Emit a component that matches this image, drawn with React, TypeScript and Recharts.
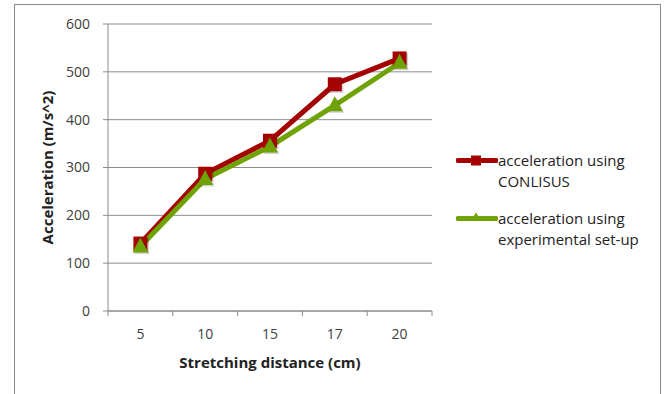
import React from "react";
import { LineChart, Line, XAxis, YAxis, CartesianGrid, Legend } from "recharts";

// Stretching distance categories (cm)
const distances = ["5", "10", "15", "17", "20"];
// Acceleration computed with CONLISUS (m/s^2)
const conlisus = [141, 287, 356, 474, 528];
// Acceleration measured with the experimental set-up (m/s^2)
const experimental = [135, 276, 344, 430, 519];
const yTicks = [0, 100, 200, 300, 400, 500, 600];

const seriesNames = ["acceleration using CONLISUS", "acceleration using experimental set-up"];
const RED = "#A50202";
const GREEN = "#6FA204";

const data = distances.map((d, i) => ({
  distance: d,
  conlisus: conlisus[i],
  experimental: experimental[i],
}));

const FONT = "'Open Sans', Lato, sans-serif";
const BAND = 64.8;

const SquareDot = (props: any) => {
  const { cx, cy, index } = props;
  if (cx == null || cy == null) return null;
  const s = 14;
  return (
    <g key={`sq-${index}`}>
      <rect x={cx - s / 2 + 1.5} y={cy - s / 2 + 1.5} width={s} height={s} fill="rgba(0,0,0,0.18)" />
      <rect x={cx - s / 2} y={cy - s / 2} width={s} height={s} fill={RED} />
    </g>
  );
};

const TriangleDot = (props: any) => {
  const { cx, cy, index } = props;
  if (cx == null || cy == null) return null;
  const w = 16;
  const h = 15;
  const pts = (ox: number, oy: number) =>
    `${cx + ox},${cy - h * 0.6 + oy} ${cx + w / 2 + ox},${cy + h * 0.4 + oy} ${cx - w / 2 + ox},${cy + h * 0.4 + oy}`;
  return (
    <g key={`tr-${index}`}>
      <polygon points={pts(1.5, 1.5)} fill="rgba(0,0,0,0.18)" />
      <polygon points={pts(0, 0)} fill={GREEN} />
    </g>
  );
};

// Category axis: labels centred in each band, tick marks on the band edges
const XTick = (props: any) => {
  const { x, y, payload, index, visibleTicksCount } = props;
  const last = index === (visibleTicksCount ?? distances.length) - 1;
  return (
    <g>
      <line x1={x - BAND / 2} x2={x - BAND / 2} y1={y - 8} y2={y - 3} stroke="#888" />
      {last && <line x1={x + BAND / 2} x2={x + BAND / 2} y1={y - 8} y2={y - 3} stroke="#888" />}
      <text x={x} y={y + 20} textAnchor="middle" fill="#404040" fontSize={14} fontFamily={FONT}>
        {payload.value}
      </text>
    </g>
  );
};

const LegendContent = () => {
  const items = [
    { color: RED, kind: "square", lines: ["acceleration using", "CONLISUS"] },
    { color: GREEN, kind: "triangle", lines: ["acceleration using", "experimental set-up"] },
  ];
  return (
    <div style={{ fontFamily: FONT, fontSize: 15, color: "#222" }}>
      {items.map((it, i) => (
        <div key={i} style={{ display: "flex", alignItems: "flex-start", marginBottom: i === 0 ? 16 : 0 }}>
          <svg width={42} height={21} style={{ flex: "none" }}>
            <line x1={2} x2={40} y1={10.5} y2={10.5} stroke={it.color} strokeWidth={5} strokeLinecap="round" />
            {it.kind === "square" ? (
              <rect x={15} y={5.5} width={10} height={10} fill={it.color} />
            ) : (
              <polygon points="20,4.5 25,12.5 15,12.5" fill={it.color} />
            )}
          </svg>
          <div style={{ lineHeight: "21px" }}>
            {it.lines.map((l, j) => (
              <div key={j}>{l}</div>
            ))}
          </div>
        </div>
      ))}
    </div>
  );
};

export default function App() {
  return (
    <div style={{ position: "absolute", left: 0, top: 0, width: 665, height: 394, background: "#fff", overflow: "hidden" }}>
      <div
        style={{
          position: "absolute",
          left: 14,
          top: 4,
          width: 647,
          height: 420,
          border: "1px solid #8a8a8a",
          boxSizing: "border-box",
        }}
      />
      <LineChart
        width={665}
        height={394}
        data={data}
        margin={{ top: 24, right: 233, bottom: 0, left: 0 }}
        style={{ position: "absolute", left: 0, top: 0 }}
      >
        <CartesianGrid vertical={false} stroke="#8c8c8c" strokeWidth={1} />
        <XAxis
          dataKey="distance"
          height={83}
          padding={{ left: BAND / 2, right: BAND / 2 }}
          axisLine={{ stroke: "#8c8c8c" }}
          tickLine={false}
          tick={<XTick />}
          interval={0}
          label={{
            value: "Stretching distance (cm)",
            position: "center",
            dy: 10,
            style: { fontFamily: FONT, fontWeight: 700, fontSize: 15, fill: "#222" },
          }}
        />
        <YAxis
          width={108}
          domain={[0, 600]}
          ticks={yTicks}
          interval={0}
          axisLine={{ stroke: "#8c8c8c" }}
          tickLine={{ stroke: "#8c8c8c" }}
          tickSize={5}
          tickMargin={13}
          tick={{ fill: "#404040", fontSize: 14, fontFamily: FONT }}
          label={{
            value: "Acceleration (m/s^2)",
            angle: -90,
            position: "center",
            dx: -6,
            style: { fontFamily: FONT, fontWeight: 700, fontSize: 15, fill: "#222", textAnchor: "middle" },
          }}
        />
        <Legend
          layout="vertical"
          verticalAlign="middle"
          align="center"
          content={<LegendContent />}
          wrapperStyle={{ left: 456, top: 150, width: 205 }}
        />
        <Line
          name={seriesNames[0]}
          type="linear"
          dataKey="conlisus"
          stroke={RED}
          strokeWidth={5}
          dot={<SquareDot />}
          activeDot={false}
          isAnimationActive={false}
        />
        <Line
          name={seriesNames[1]}
          type="linear"
          dataKey="experimental"
          stroke={GREEN}
          strokeWidth={5}
          dot={<TriangleDot />}
          activeDot={false}
          isAnimationActive={false}
        />
      </LineChart>
    </div>
  );
}
